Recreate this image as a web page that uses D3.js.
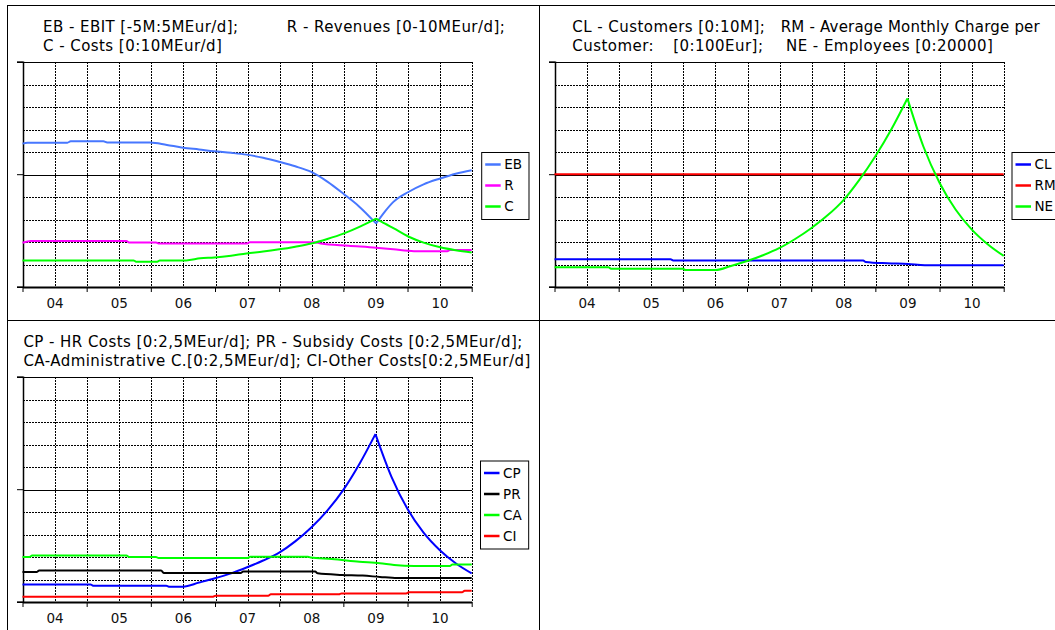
<!DOCTYPE html>
<html>
<head>
<meta charset="utf-8">
<script src="https://cdn.jsdelivr.net/npm/d3@7"></script>
<style>
  html, body { margin: 0; padding: 0; background: #fff; }
  svg { display: block; font-family: "DejaVu Sans", Verdana, sans-serif; }
</style>
</head>
<body>
<svg id="chart" width="1055" height="630"></svg>
<script>
// ---------- data (x = year, y = chart units, 10 units per full scale) ----------
const yearLabels = ["04", "05", "06", "07", "08", "09", "10"];
const yearStart = 2004, yearEnd = 2011;

// Panel 1: EB / R / C
const ebitData = [[2004.0,6.36],[2004.08,6.40],[2004.7,6.40],[2004.75,6.46],[2005.26,6.46],[2005.32,6.41],[2005.99,6.41],[2006.25,6.30],[2006.5,6.18],[2006.75,6.10],[2006.99,6.02],[2007.25,5.95],[2007.49,5.87],[2007.75,5.73],[2008.0,5.55],[2008.25,5.35],[2008.5,5.10],[2008.75,4.67],[2009.01,4.11],[2009.24,3.58],[2009.51,2.81],[2009.65,3.35],[2009.78,3.77],[2010.02,4.22],[2010.25,4.55],[2010.51,4.81],[2010.75,5.02],[2011.0,5.18]];
const revenueData = [[2004.0,1.95],[2004.13,2.03],[2005.62,2.03],[2005.66,1.97],[2006.08,1.97],[2006.12,1.92],[2007.5,1.92],[2007.54,1.98],[2008.54,1.98],[2008.65,1.92],[2009.08,1.82],[2009.51,1.73],[2009.78,1.66],[2010.1,1.58],[2010.62,1.58],[2010.66,1.63],[2011.0,1.63]];
const costData = [[2004.0,1.17],[2005.73,1.17],[2005.77,1.11],[2006.1,1.11],[2006.14,1.17],[2006.55,1.17],[2006.77,1.26],[2006.99,1.30],[2007.25,1.38],[2007.49,1.48],[2007.75,1.56],[2008.0,1.66],[2008.25,1.78],[2008.5,1.92],[2008.75,2.12],[2009.01,2.37],[2009.25,2.66],[2009.51,3.03],[2009.65,2.80],[2009.78,2.60],[2010.02,2.22],[2010.25,1.96],[2010.51,1.75],[2010.75,1.62],[2011.0,1.52]];

// Panel 2: CL / RM / NE
const customersData = [[2004.0,1.22],[2005.81,1.22],[2005.85,1.17],[2008.81,1.17],[2008.85,1.10],[2009.19,1.04],[2009.51,1.01],[2009.77,0.95],[2011.0,0.95]];
const chargeData = [[2004.0,5.0],[2011.0,5.0]];
const employeesData = [[2004.0,0.86],[2004.84,0.86],[2004.88,0.80],[2006.0,0.80],[2006.04,0.74],[2006.51,0.74],[2006.75,0.92],[2007.0,1.14],[2007.25,1.40],[2007.5,1.71],[2007.75,2.12],[2008.0,2.60],[2008.25,3.16],[2008.5,3.84],[2008.75,4.75],[2009.0,5.80],[2009.25,7.00],[2009.5,8.37],[2009.75,6.22],[2010.0,4.62],[2010.25,3.43],[2010.5,2.55],[2010.75,1.89],[2011.0,1.37]];

// Panel 3: CP / PR / CA / CI
const hrData = [[2004.0,0.77],[2005.06,0.77],[2005.1,0.71],[2006.24,0.71],[2006.28,0.67],[2006.5,0.67],[2006.75,0.85],[2007.0,1.04],[2007.25,1.26],[2007.5,1.53],[2007.75,1.83],[2008.0,2.18],[2008.25,2.68],[2008.5,3.30],[2008.75,4.05],[2009.0,4.97],[2009.25,6.12],[2009.5,7.45],[2009.75,5.55],[2010.0,4.12],[2010.25,3.07],[2010.5,2.30],[2010.75,1.71],[2011.0,1.26]];
const subsidyData = [[2004.0,1.32],[2004.22,1.32],[2004.26,1.39],[2006.16,1.39],[2006.2,1.28],[2007.4,1.28],[2007.44,1.34],[2008.56,1.34],[2008.6,1.26],[2008.98,1.19],[2009.3,1.16],[2009.57,1.10],[2009.84,1.05],[2011.0,1.05]];
const adminData = [[2004.0,1.99],[2004.11,1.99],[2004.15,2.05],[2005.62,2.05],[2005.66,1.99],[2006.08,1.99],[2006.12,1.94],[2007.51,1.94],[2007.55,2.0],[2008.45,2.0],[2008.49,1.96],[2008.82,1.90],[2009.25,1.78],[2009.57,1.71],[2009.79,1.63],[2010.11,1.59],[2010.66,1.59],[2010.7,1.65],[2011.0,1.65]];
const otherData = [[2004.0,0.22],[2006.97,0.22],[2007.01,0.27],[2007.83,0.27],[2007.87,0.33],[2008.93,0.33],[2008.97,0.37],[2009.98,0.37],[2010.02,0.42],[2010.85,0.42],[2010.89,0.49],[2011.0,0.49]];

// ---------- layout ----------
const svg = d3.select("#chart");
const PW = 532, PH = 315;
const plot = { left: 15, right: 464.2, top: 56.2, bottom: 281.2 };

const panels = [
  { ox: 7.5, oy: 5.5,
    titles: [
      { t: "EB - EBIT [-5M:5MEur/d];", x: 35.5, y: 26 },
      { t: "R - Revenues [0-10MEur/d];", x: 279.3, y: 26 },
      { t: "C - Costs [0:10MEur/d]", x: 35.5, y: 45 }
    ],
    series: [
      { name: "EB", color: "#4777ff", data: ebitData },
      { name: "R", color: "#ff00ff", data: revenueData },
      { name: "C", color: "#00ff00", data: costData }
    ],
    legend: { x: 474.2, y: 147 } },
  { ox: 539.5, oy: 5.5,
    titles: [
      { t: "CL - Customers [0:10M];", x: 32.8, y: 26 },
      { t: "RM - Average Monthly Charge per", x: 241.2, y: 26, ls: 0.2 },
      { t: "Customer:", x: 32.8, y: 45 },
      { t: "[0:100Eur];", x: 133.8, y: 45 },
      { t: "NE - Employees [0:20000]", x: 246.5, y: 45 }
    ],
    series: [
      { name: "CL", color: "#0000ff", data: customersData },
      { name: "RM", color: "#ff0000", data: chargeData },
      { name: "NE", color: "#00ff00", data: employeesData }
    ],
    legend: { x: 472.5, y: 147 } },
  { ox: 7.5, oy: 320.5,
    titles: [
      { t: "CP - HR Costs [0:2,5MEur/d]; PR - Subsidy Costs [0:2,5MEur/d];", x: 15.9, y: 26 },
      { t: "CA-Administrative C.[0:2,5MEur/d]; CI-Other Costs[0:2,5MEur/d]", x: 15.9, y: 45 }
    ],
    series: [
      { name: "CP", color: "#0000ff", data: hrData },
      { name: "PR", color: "#000000", data: subsidyData },
      { name: "CA", color: "#00ff00", data: adminData },
      { name: "CI", color: "#ff0000", data: otherData }
    ],
    legend: { x: 473, y: 140.5 } },
  { ox: 539.5, oy: 320.5, titles: [], series: null }
];

const x = d3.scaleLinear().domain([yearStart, yearEnd]).range([plot.left, plot.right]);
const y = d3.scaleLinear().domain([0, 10]).range([plot.bottom, plot.top]);
const line = d3.line().x(d => x(d[0])).y(d => y(d[1])).curve(d3.curveMonotoneX);

// split a series at sharp cusps (peaks / troughs) so the smooth curve keeps them pointed
function pathWithCusps(data) {
  const pieces = [];
  let start = 0;
  for (let i = 1; i < data.length - 1; i++) {
    const s1 = (data[i][1] - data[i - 1][1]) / (data[i][0] - data[i - 1][0]);
    const s2 = (data[i + 1][1] - data[i][1]) / (data[i + 1][0] - data[i][0]);
    if (Math.sign(s1) !== Math.sign(s2) && Math.abs(s1) > 1 && Math.abs(s2) > 1) {
      pieces.push(data.slice(start, i + 1));
      start = i;
    }
  }
  pieces.push(data.slice(start));
  return pieces.map(p => line(p)).join("");
}

panels.forEach(p => {
  const g = svg.append("g").attr("transform", `translate(${p.ox},${p.oy})`);
  g.append("rect").attr("x", 0).attr("y", 0).attr("width", PW).attr("height", PH)
    .attr("fill", "none").attr("stroke", "#000").attr("stroke-width", 1);
  if (!p.series) return;

  // titles
  g.selectAll("text.title").data(p.titles).join("text")
    .attr("class", "title")
    .attr("x", d => d.x).attr("y", d => d.y)
    .attr("font-size", 15).attr("letter-spacing", d => d.ls != null ? d.ls : 0.45).attr("fill", "#000")
    .text(d => d.t);

  // horizontal grid
  const hVals = d3.range(1, 10);
  g.selectAll("line.hg").data(hVals).join("line")
    .attr("class", "hg")
    .attr("x1", plot.left).attr("x2", plot.right)
    .attr("y1", d => Math.round(y(d)) + 0.5).attr("y2", d => Math.round(y(d)) + 0.5)
    .attr("stroke", "#000").attr("stroke-width", 1)
    .attr("stroke-dasharray", d => d === 5 ? null : "2,1")
    .attr("shape-rendering", "crispEdges");

  // vertical grid at half years
  const vVals = d3.range(yearStart + 0.5, yearEnd + 0.01, 0.5);
  g.selectAll("line.vg").data(vVals).join("line")
    .attr("class", "vg")
    .attr("y1", plot.top).attr("y2", plot.bottom)
    .attr("x1", d => Math.round(x(d)) + 0.5).attr("x2", d => Math.round(x(d)) + 0.5)
    .attr("stroke", "#000").attr("stroke-width", 1)
    .attr("stroke-dasharray", "2,1")
    .attr("shape-rendering", "crispEdges");

  // top border
  g.append("line").attr("x1", plot.left).attr("x2", plot.right)
    .attr("y1", Math.round(y(10)) + 0.5).attr("y2", Math.round(y(10)) + 0.5)
    .attr("stroke", "#000").attr("shape-rendering", "crispEdges");

  // y axis (left) with ticks at 0,5,10
  const yAxis = d3.axisLeft(y).tickValues([0, 5, 10]).tickSize(6).tickFormat("");
  const ya = g.append("g").attr("transform", `translate(${Math.round(plot.left) + 0.5},0)`).call(yAxis);
  ya.select(".domain").attr("stroke-width", 1.5);
  ya.selectAll(".tick line").attr("stroke-width", 1);

  // x axis: ticks at year boundaries
  const xAxis = d3.axisBottom(x).tickValues(d3.range(yearStart, yearEnd + 1)).tickSize(5).tickFormat("").tickSizeOuter(0);
  const xa = g.append("g").attr("transform", `translate(0,${Math.round(plot.bottom) + 0.5})`).call(xAxis);
  xa.select(".domain").attr("stroke-width", 2);

  // year labels at mid-year
  const labAxis = d3.axisBottom(x).tickValues(yearLabels.map((_, i) => yearStart + i + 0.5))
    .tickSize(0).tickPadding(0).tickFormat((d, i) => yearLabels[i]);
  const la = g.append("g").attr("transform", `translate(0,${plot.bottom + 12})`).call(labAxis);
  la.select(".domain").remove();
  la.selectAll("text").attr("font-size", 13.5).attr("font-family", "DejaVu Sans, Verdana, sans-serif").attr("fill", "#111").attr("dy", "0.71em");

  // series lines
  g.selectAll("path.series").data(p.series).join("path")
    .attr("class", "series")
    .attr("d", d => pathWithCusps(d.data))
    .attr("fill", "none").attr("stroke", d => d.color).attr("stroke-width", 2)
    .attr("stroke-linejoin", "round");

  // legend
  const lg = g.append("g").attr("transform", `translate(${p.legend.x},${p.legend.y})`);
  const rowH = 21, firstY = 12;
  const box = lg.append("rect").attr("fill", "#fff").attr("stroke", "#000").attr("stroke-width", 1);
  const items = lg.selectAll("g.item").data(p.series).join("g")
    .attr("class", "item").attr("transform", (d, i) => `translate(0,${firstY + i * rowH})`);
  items.append("line").attr("x1", 3.5).attr("x2", 19).attr("y1", 0).attr("y2", 0)
    .attr("stroke", d => d.color).attr("stroke-width", 2.5);
  const texts = items.append("text").attr("x", 22.5).attr("y", 0).attr("dy", "0.36em")
    .attr("font-size", 13.5).attr("fill", "#000").text(d => d.name);
  let maxW = 0;
  texts.each(function () { maxW = Math.max(maxW, this.getComputedTextLength()); });
  box.attr("x", 0).attr("y", 0).attr("width", 22.5 + maxW + 7)
    .attr("height", firstY + (p.series.length - 1) * rowH + 13);
});
</script>
</body>
</html>
